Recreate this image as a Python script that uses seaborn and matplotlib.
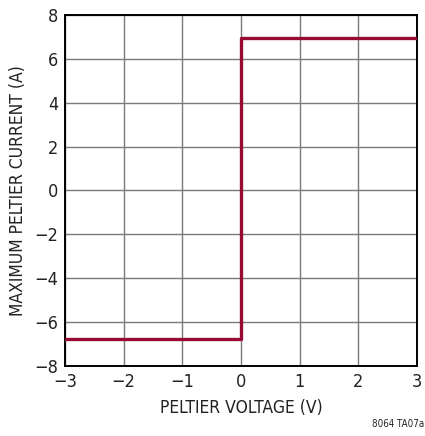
import pandas as pd
import seaborn as sns
import matplotlib.pyplot as plt

# Step response: max Peltier current vs. Peltier voltage
voltage = [-3.0, 0.0, 0.0, 3.0]
current = [-6.75, -6.75, 6.95, 6.95]
x_ticks = [-3, -2, -1, 0, 1, 2, 3]
y_ticks = [-8, -6, -4, -2, 0, 2, 4, 6, 8]

df = pd.DataFrame({'Voltage': voltage, 'Current': current})

sns.set_style('white')
plt.rcParams['font.family'] = ['DejaVu Sans']
plt.rcParams['font.stretch'] = 'condensed'

fig = plt.figure(figsize=(4.25, 4.36), dpi=100)
ax = fig.add_axes([0.153, 0.1606, 0.828, 0.805])

sns.lineplot(data=df, x='Voltage', y='Current', sort=False, estimator=None,
             color='#980a33', linewidth=2.4, ax=ax, zorder=3)

ax.set_xlim(-3, 3)
ax.set_ylim(-8, 8)
ax.set_xticks(x_ticks)
ax.set_yticks(y_ticks)
ax.set_xticklabels([str(t).replace('-', '\u2212') for t in x_ticks])
ax.set_yticklabels([str(t).replace('-', '\u2212') for t in y_ticks])
ax.grid(True, color='#7a7a7a', linewidth=1.0)
ax.tick_params(length=0, labelsize=13, pad=5, colors='#222222')
for s in ax.spines.values():
    s.set_color('black')
    s.set_linewidth(1.4)

ax.set_xlabel('PELTIER VOLTAGE (V)', fontsize=12.5, color='#222222', labelpad=6)
ax.set_ylabel('MAXIMUM PELTIER CURRENT (A)', fontsize=12.5, color='#222222', labelpad=5)
fig.text(0.998, 0.015, '8064 TA07a', ha='right', va='bottom', fontsize=7, color='#222222')

fig.savefig('out.png', dpi=100)
